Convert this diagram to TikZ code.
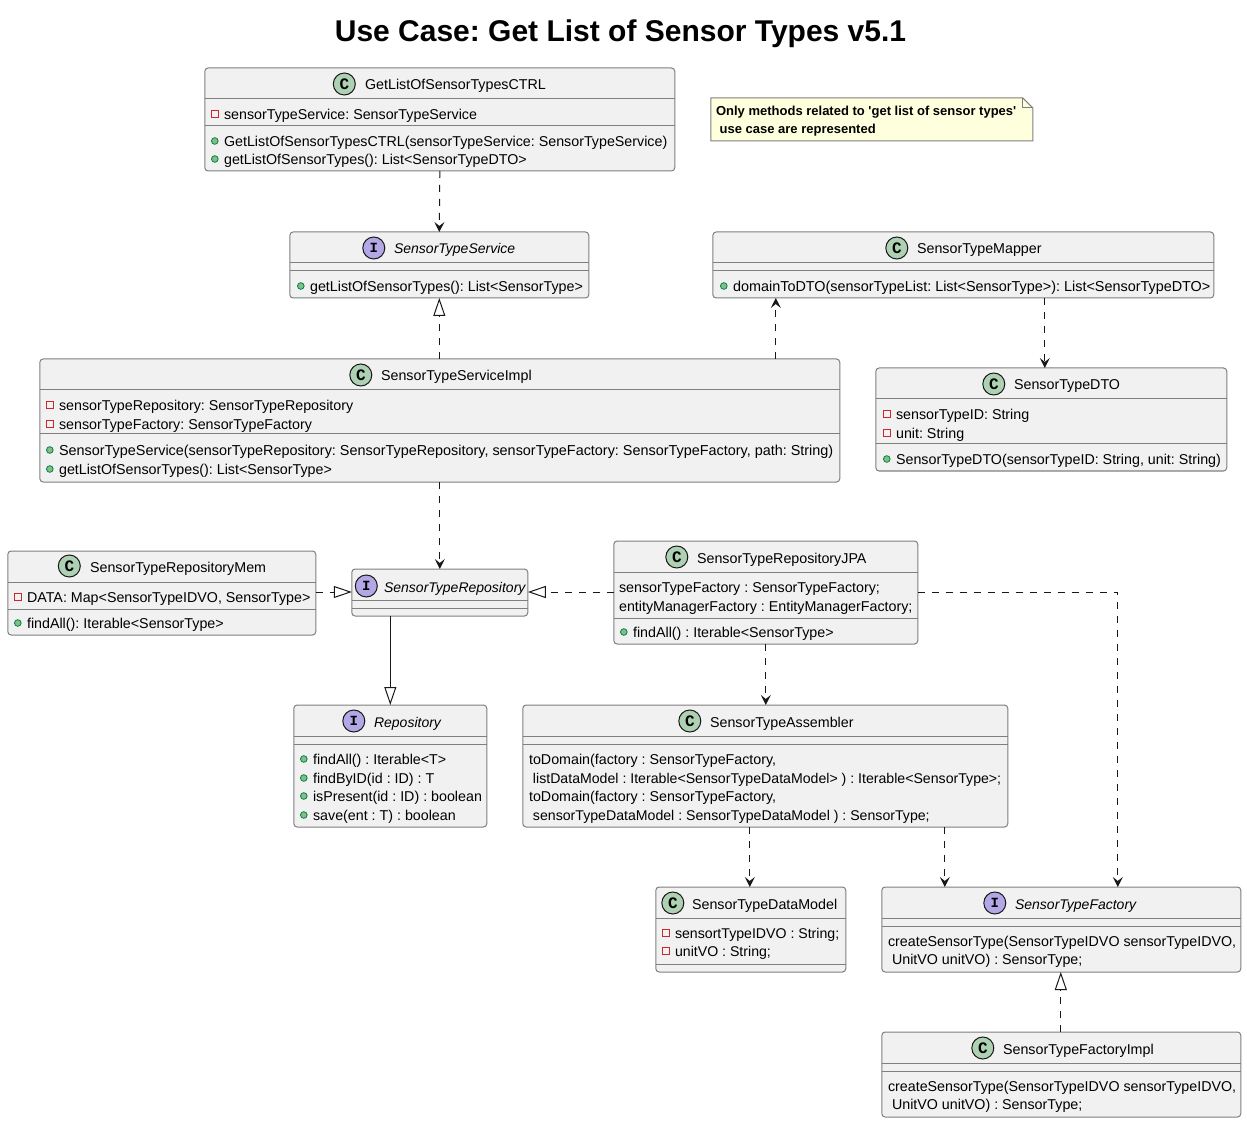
\documentclass[tikz,border=0pt]{standalone}
\usepackage{fontspec}
\setmainfont{Liberation Sans}
\newfontfamily\notefont{Liberation Sans}
\newfontfamily\spotfont{Liberation Mono}[BoldFont=* Bold]
\usetikzlibrary{positioning,arrows.meta}
\definecolor{boxfill}{HTML}{F1F1F1}
\definecolor{boxline}{HTML}{7F7F7F}
\definecolor{inkline}{HTML}{181818}
\definecolor{spotc}{HTML}{ADD1B2}
\definecolor{spoti}{HTML}{B4A7E5}
\definecolor{notefill}{HTML}{FEFFDD}
\definecolor{pubfill}{HTML}{84BE84}
\definecolor{publine}{HTML}{038048}
\definecolor{privline}{HTML}{C82930}
\newcommand{\widertext}{\fontsize{10.8}{12}\selectfont}
\newcommand{\tightertext}{\fontsize{10.6}{12}\selectfont}
\tikzset{
classbox/.style={draw=boxline, fill=boxfill, line width=.75pt, rounded corners=2.5pt, inner sep=0pt, outer sep=0pt},
sepline/.style={draw=boxline, line width=.75pt},
spotnode/.style={circle, draw=inkline, line width=.75pt, minimum size=16.5pt, inner sep=0pt},
cspot/.style={spotnode, fill=spotc, font=\spotfont\bfseries\fontsize{12}{12}\selectfont},
ispot/.style={spotnode, fill=spoti, font=\spotfont\bfseries\fontsize{10.5}{12}\selectfont},
headtext/.style={anchor=base west, inner sep=0pt, font=\frenchspacing\fontsize{10.7}{12}\selectfont},
headital/.style={headtext, font=\frenchspacing\fontsize{10.5}{12}\selectfont\itshape},
membertext/.style={anchor=base west, inner sep=0pt, text=black, font=\frenchspacing\fontsize{10.7}{12}\selectfont},
notetext/.style={anchor=base west, inner sep=0pt, font=\frenchspacing\notefont\bfseries\fontsize{9.75}{11}\selectfont},
pubm/.style={circle, draw=publine, fill=pubfill, line width=.6pt, minimum size=5pt, inner sep=0pt},
privm/.style={rectangle, draw=privline, line width=.6pt, minimum size=5pt, inner sep=0pt},
nom/.style={inner sep=0pt, minimum size=0pt},
dep/.style={draw=inkline, line width=.75pt, dash pattern=on 5.25pt off 5.25pt, -{Stealth[inset=3pt, length=7.5pt, width=7.5pt]}},
impl/.style={draw=inkline, line width=.75pt, dash pattern=on 5.25pt off 5.25pt, -{Triangle[open, length=13.5pt, width=9pt, fill=none]}},
ext/.style={draw=inkline, line width=.75pt, -{Triangle[open, length=13.5pt, width=9pt, fill=none]}},
}
% name, left, top, right, bottom, first rule, second rule
\newcommand{\umlbox}[7]{
\node[classbox, minimum width={(#4-#2)*.75pt}, minimum height={(#5-#3)*.75pt}] (#1) at ({(#2+#4)/2},{(#3+#5)/2}) {};
\draw[sepline] (#1.west |- 0,#6) -- (#1.east |- 0,#6);
\draw[sepline] (#1.west |- 0,#7) -- (#1.east |- 0,#7);
}
% name, spot x, spot y, letter, spot style, text x, title, style
\newcommand{\umlhead}[8]{
\node[#5] (#1-spot) at (#2,#3) {#4};
\node[#8] (#1-title) at (#6,#3+6) {#7};
}
% name, text x, list of y/mark/text
\newcommand{\umlmembers}[3]{
\foreach \yy/\kk/\txt [count=\i] in {#3}{
\node[\kk] (#1-mark\i) at (#2-9,\yy) {};
\node[membertext] (#1-text\i) at (#2,\yy+5.5) {\txt};
}
}
\begin{document}
\begin{tikzpicture}[x=.75pt, y=-.75pt]
\useasboundingbox (.2,0) rectangle (1247.2,1123);
\node[font=\frenchspacing\bfseries\fontsize{22.5}{26}\selectfont, inner sep=0pt] (title) at (620.7,34) {Use Case: Get List of Sensor Types v5.1};

\umlbox{ctrl}{205}{68}{675}{171}{99}{126}
\umlhead{ctrl}{344.5}{84}{C}{cspot}{365}{GetListOfSensorTypesCTRL}{headtext}
\umlmembers{ctrl}{224}{114/privm/{sensorTypeService: SensorTypeService},141/pubm/{GetListOfSensorTypesCTRL(sensorTypeService: SensorTypeService)},159/pubm/{getListOfSensorTypes(): List<SensorTypeDTO>}}

\umlbox{svc}{290}{232}{589}{298}{263}{271}
\umlhead{svc}{374}{248}{I}{ispot}{394}{SensorTypeService}{headital}
\umlmembers{svc}{310}{286/pubm/{getListOfSensorTypes(): List<SensorType>}}

\umlbox{mapper}{713}{232}{1214}{298}{263}{271}
\umlhead{mapper}{897}{248}{C}{cspot}{917}{SensorTypeMapper}{headtext}
\umlmembers{mapper}{733}{286/pubm/{\widertext domainToDTO(sensorTypeList: List<SensorType>): List<SensorTypeDTO>}}

\umlbox{svcimpl}{40}{359}{840}{482}{390}{434}
\umlhead{svcimpl}{361}{375}{C}{cspot}{381}{SensorTypeServiceImpl}{headtext}
\umlmembers{svcimpl}{59}{405/privm/{sensorTypeRepository: SensorTypeRepository},424/privm/{sensorTypeFactory: SensorTypeFactory},450/pubm/{\widertext SensorTypeService(sensorTypeRepository: SensorTypeRepository, sensorTypeFactory: SensorTypeFactory, path: String)},469/pubm/{getListOfSensorTypes(): List<SensorType>}}

\umlbox{dto}{876}{368}{1227}{471}{399}{444}
\umlhead{dto}{994}{384}{C}{cspot}{1014}{SensorTypeDTO}{headtext}
\umlmembers{dto}{896}{414/privm/{sensorTypeID: String},433/privm/{unit: String},459/pubm/{SensorTypeDTO(sensorTypeID: String, unit: String)}}

\umlbox{mem}{8}{551}{316}{635}{582}{609}
\umlhead{mem}{69.5}{566}{C}{cspot}{90}{SensorTypeRepositoryMem}{headtext}
\umlmembers{mem}{27}{597/privm/{DATA: Map<SensorTypeIDVO, SensorType>},623/pubm/{findAll(): Iterable<SensorType>}}

\umlbox{repo}{352}{569}{528}{616}{600}{608}
\umlhead{repo}{366.5}{586}{I}{ispot}{384}{SensorTypeRepository}{headital}

\umlbox{jpa}{614}{541}{918}{644}{572}{618}
\umlhead{jpa}{677}{557}{C}{cspot}{697}{SensorTypeRepositoryJPA}{headtext}
\umlmembers{jpa}{619}{587/nom/{sensorTypeFactory : SensorTypeFactory;},606/nom/{entityManagerFactory : EntityManagerFactory;}}
\umlmembers{jpa}{633}{632/pubm/{findAll() : Iterable<SensorType>}}

\umlbox{base}{294}{705}{487}{827}{736}{744}
\umlhead{base}{354}{721}{I}{ispot}{374}{Repository}{headital}
\umlmembers{base}{313}{759/pubm/{findAll() : Iterable<T>},778/pubm/{findByID(id : ID) : T},796/pubm/{isPresent(id : ID) : boolean},815/pubm/{save(ent : T) : boolean}}

\umlbox{assembler}{523}{705}{1008}{827}{736}{744}
\umlhead{assembler}{690}{721}{C}{cspot}{710}{SensorTypeAssembler}{headtext}
\umlmembers{assembler}{529}{759/nom/{toDomain(factory : SensorTypeFactory,},778/nom/{\tightertext ~listDataModel : Iterable<SensorTypeDataModel> ) : Iterable<SensorType>;},796/nom/{toDomain(factory : SensorTypeFactory,},815/nom/{\tightertext ~sensorTypeDataModel : SensorTypeDataModel ) : SensorType;}}

\umlbox{datamodel}{656}{887}{846}{972}{918}{964}
\umlhead{datamodel}{673}{903}{C}{cspot}{692}{SensorTypeDataModel}{headtext}
\umlmembers{datamodel}{675}{933/privm/{\tightertext sensortTypeIDVO : String;},951/privm/{\tightertext unitVO : String;}}

\umlbox{factory}{882}{887}{1241}{972}{918}{926}
\umlhead{factory}{995}{903}{I}{ispot}{1015}{SensorTypeFactory}{headital}
\umlmembers{factory}{888}{941/nom/{createSensorType(SensorTypeIDVO sensorTypeIDVO,},959/nom/{~UnitVO unitVO) : SensorType;}}

\umlbox{factoryimpl}{882}{1032}{1241}{1117}{1063}{1071}
\umlhead{factoryimpl}{983}{1048}{C}{cspot}{1003}{SensorTypeFactoryImpl}{headtext}
\umlmembers{factoryimpl}{888}{1086/nom/{createSensorType(SensorTypeIDVO sensorTypeIDVO,},1104/nom/{~UnitVO unitVO) : SensorType;}}

\draw[draw=boxline, fill=notefill, line width=.75pt] (711,98) -- (1023,98) -- (1033,108) -- (1033,141) -- (711,141) -- cycle;
\draw[draw=boxline, line width=.75pt] (1023,98) -- (1023,108) -- (1033,108);
\node[notetext] (note-a) at (716,116) {Only methods related to 'get list of sensor types'};
\node[notetext] (note-b) at (716,134) {~use case are represented};

\draw[dep] (ctrl.south) -- (svc.north);
\draw[impl] (svcimpl.north -| svc.south) -- (svc.south);
\draw[dep] (svcimpl.north -| 776,0) -- (mapper.south -| 776,0);
\draw[dep] (mapper.south -| 1045,0) -- (dto.north -| 1045,0);
\draw[dep] (svcimpl.south -| repo.north) -- (repo.north);
\draw[impl] (mem.east |- 0,592) -- (repo.west |- 0,592);
\draw[impl] (jpa.west |- 0,592) -- (repo.east |- 0,592);
\draw[ext] (repo.south -| base.north) -- (base.north);
\draw[dep] (jpa.south -| 766,0) -- (assembler.north -| 766,0);
\draw[dep] (assembler.south -| 750,0) -- (datamodel.north -| 750,0);
\draw[dep] (assembler.south -| 945,0) -- (factory.north -| 945,0);
\draw[dep] (jpa.east |- 0,592) -- (1118,592) -- (factory.north -| 1118,0);
\draw[impl] (factoryimpl.north -| 1061,0) -- (factory.south -| 1061,0);
\end{tikzpicture}
\end{document}
